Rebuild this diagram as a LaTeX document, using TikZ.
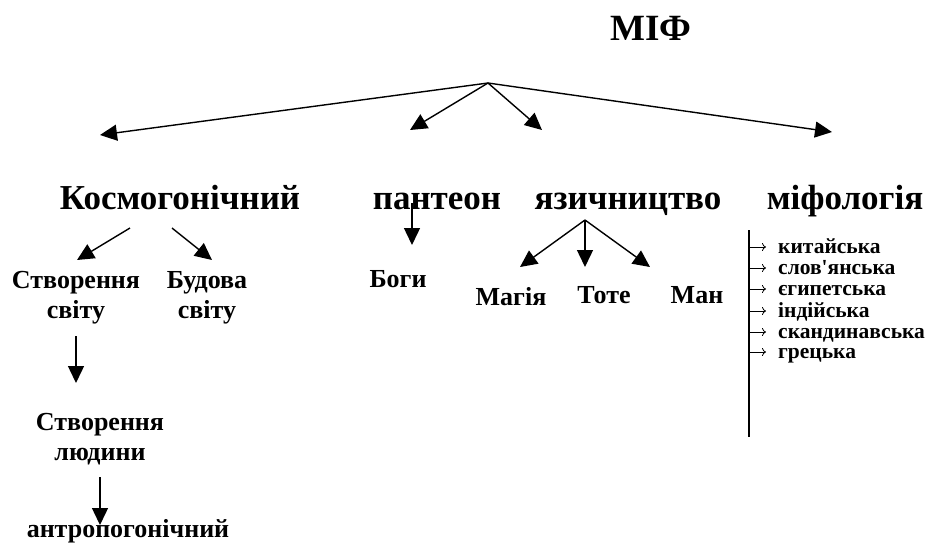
\documentclass[tikz,border=0pt]{standalone}
\usepackage{fontspec}
\setmainfont{Liberation Serif}
\usetikzlibrary{arrows.meta,positioning}

\begin{document}
\begin{tikzpicture}[x=1pt, y=-1pt,
    top/.style={font=\bfseries\fontsize{37}{40}\selectfont, anchor=base, inner sep=0pt},
    big/.style={font=\bfseries\fontsize{35}{38}\selectfont, anchor=base, inner sep=0pt},
    mid/.style={font=\bfseries\fontsize{26}{30}\selectfont, anchor=base, inner sep=0pt, align=center},
    item/.style={font=\bfseries\fontsize{21.5}{21}\selectfont, anchor=base west, inner sep=0pt},
    arrow/.style={-{Triangle[length=17pt,width=16pt]}, line width=1.4pt},
    small arrow/.style={-{To[length=4pt,width=8pt]}, line width=0.8pt}
]
    \useasboundingbox (0,0) rectangle (935,542);

    \node[top] (mif) at (651,40) {МІФ};
    \coordinate (root) at (488,83);

    \node[big] (kosm) at (180,209) {Космогонічний};
    \node[big] (panth) at (437,209) {пантеон};
    \node[big] (pagan) at (628,209) {язичництво};
    \node[big] (myth) at (845,209) {міфологія};

    \coordinate (t-kosm) at (100,135);
    \coordinate (t-panth) at (410,130);
    \coordinate (t-pagan) at (542,130);
    \coordinate (t-myth) at (832,132);
    \draw[arrow] (root) -- (t-kosm);
    \draw[arrow] (root) -- (t-panth);
    \draw[arrow] (root) -- (t-pagan);
    \draw[arrow] (root) -- (t-myth);

    % космогонічний
    \node[mid] (world1) at (76,318) {Створення\\світу};
    \node[mid] (world2) at (207,318) {Будова\\світу};
    \node[mid] (human) at (100,460) {Створення\\людини};
    \node[mid] (anthro) at (128,537) {антропогонічний};

    \coordinate (k1) at (130,228);
    \coordinate (k2) at (172,228);
    \coordinate (t-world1) at (77,260);
    \coordinate (t-world2) at (212,260);
    \draw[arrow] (k1) -- (t-world1);
    \draw[arrow] (k2) -- (t-world2);

    \coordinate (w1) at (76,336);
    \coordinate (t-human) at (76,383);
    \draw[arrow] (w1) -- (t-human);
    \coordinate (h1) at (100,477);
    \coordinate (t-anthro) at (100,525);
    \draw[arrow] (h1) -- (t-anthro);

    % пантеон
    \node[mid] (gods) at (398,287) {Боги};
    \coordinate (p1) at (412,203);
    \coordinate (t-gods) at (412,245);
    \draw[arrow] (p1) -- (t-gods);

    % язичництво
    \node[mid] (magic) at (511,305) {Магія};
    \node[mid] (totem) at (604,303) {Тоте};
    \node[mid] (mana) at (697,303) {Ман};
    \coordinate (y1) at (585,220);
    \coordinate (t-magic) at (520,267);
    \coordinate (t-totem) at (585,267);
    \coordinate (t-mana) at (650,267);
    \draw[arrow] (y1) -- (t-magic);
    \draw[arrow] (y1) -- (t-totem);
    \draw[arrow] (y1) -- (t-mana);

    % міфологія
    \coordinate (m-top) at (749,230);
    \coordinate (m-bot) at (749,437);
    \draw[line width=1.2pt] (m-top) -- (m-bot);
    \foreach \name/\txt/\y in {china/китайська/253, slav/слов\textquotesingle янська/274, egypt/єгипетська/295,
                               india/індійська/317, scand/скандинавська/338, greek/грецька/358} {
        \node[item] (\name) at (778,\y) {\txt};
        \coordinate (l-\name) at (749,\y-6);
        \draw[small arrow] (l-\name) -- (766,\y-6);
    }
\end{tikzpicture}
\end{document}
